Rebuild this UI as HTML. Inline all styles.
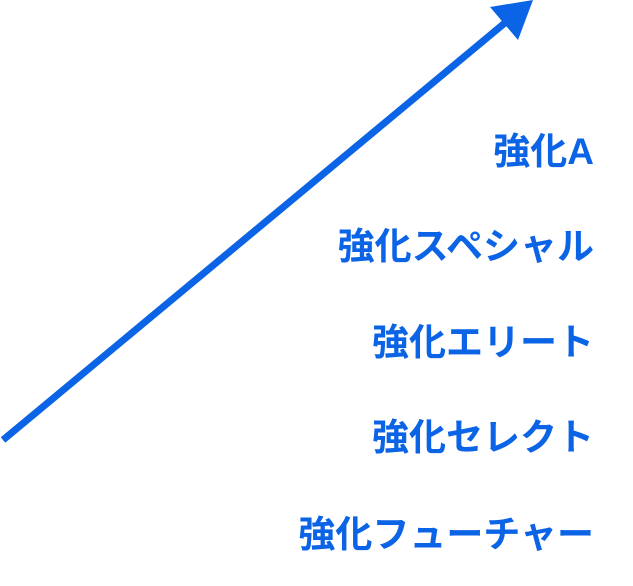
<!DOCTYPE html>
<html><head><meta charset="utf-8"><style>
body{margin:0;width:633px;height:586px;background:#fff;overflow:hidden;position:relative}
.t{position:absolute;right:39px;font:bold 37px "Liberation Sans","Noto Sans CJK JP",sans-serif;color:#0b63e5;line-height:1;white-space:nowrap}
svg{position:absolute;left:0;top:0}
</style></head><body>
<svg width="633" height="586"><line x1="3" y1="440" x2="506" y2="22" stroke="#0b63e5" stroke-width="7"/>
<polygon points="533,0 490,7 518,40" fill="#0b63e5"/></svg>
<div class="t" style="top:133px">強化A</div>
<div class="t" style="top:228px">強化スペシャル</div>
<div class="t" style="top:324px">強化エリート</div>
<div class="t" style="top:419px">強化セレクト</div>
<div class="t" style="top:516px">強化フューチャー</div>
</body></html>
